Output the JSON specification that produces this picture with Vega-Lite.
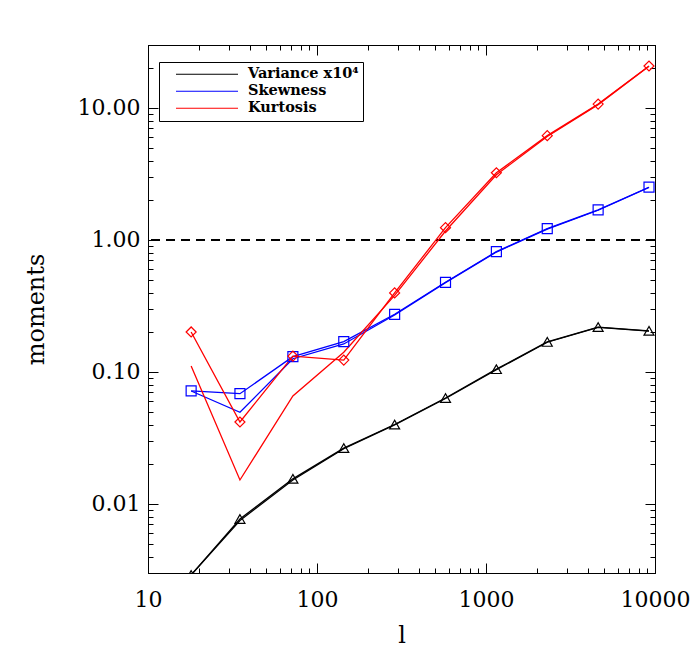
{
  "$schema": "https://vega.github.io/schema/vega-lite/v6.json",
  "width": 507,
  "height": 528,
  "autosize": "none",
  "padding": {"left": 148, "top": 45, "right": 45, "bottom": 95},
  "data": {
    "values": [
      {"series": "Variance x10⁴", "kind": "sym", "l": 18, "v": 0.0029},
      {"series": "Variance x10⁴", "kind": "sym", "l": 35, "v": 0.0077},
      {"series": "Variance x10⁴", "kind": "sym", "l": 72, "v": 0.0155},
      {"series": "Variance x10⁴", "kind": "sym", "l": 144, "v": 0.0265},
      {"series": "Variance x10⁴", "kind": "sym", "l": 288, "v": 0.040},
      {"series": "Variance x10⁴", "kind": "sym", "l": 576, "v": 0.0635},
      {"series": "Variance x10⁴", "kind": "sym", "l": 1152, "v": 0.105},
      {"series": "Variance x10⁴", "kind": "sym", "l": 2304, "v": 0.169},
      {"series": "Variance x10⁴", "kind": "sym", "l": 4608, "v": 0.219},
      {"series": "Variance x10⁴", "kind": "sym", "l": 9216, "v": 0.205},
      {"series": "Variance x10⁴", "kind": "plain", "l": 18, "v": 0.0029},
      {"series": "Variance x10⁴", "kind": "plain", "l": 35, "v": 0.0075},
      {"series": "Variance x10⁴", "kind": "plain", "l": 72, "v": 0.0152},
      {"series": "Variance x10⁴", "kind": "plain", "l": 144, "v": 0.0262},
      {"series": "Variance x10⁴", "kind": "plain", "l": 288, "v": 0.0398},
      {"series": "Variance x10⁴", "kind": "plain", "l": 576, "v": 0.063},
      {"series": "Variance x10⁴", "kind": "plain", "l": 1152, "v": 0.104},
      {"series": "Variance x10⁴", "kind": "plain", "l": 2304, "v": 0.168},
      {"series": "Variance x10⁴", "kind": "plain", "l": 4608, "v": 0.218},
      {"series": "Variance x10⁴", "kind": "plain", "l": 9216, "v": 0.204},
      {"series": "Skewness", "kind": "sym", "l": 18, "v": 0.0718},
      {"series": "Skewness", "kind": "sym", "l": 35, "v": 0.0685},
      {"series": "Skewness", "kind": "sym", "l": 72, "v": 0.1306},
      {"series": "Skewness", "kind": "sym", "l": 144, "v": 0.170},
      {"series": "Skewness", "kind": "sym", "l": 288, "v": 0.2735},
      {"series": "Skewness", "kind": "sym", "l": 576, "v": 0.478},
      {"series": "Skewness", "kind": "sym", "l": 1152, "v": 0.816},
      {"series": "Skewness", "kind": "sym", "l": 2304, "v": 1.22},
      {"series": "Skewness", "kind": "sym", "l": 4608, "v": 1.69},
      {"series": "Skewness", "kind": "sym", "l": 9216, "v": 2.51},
      {"series": "Skewness", "kind": "plain", "l": 18, "v": 0.0718},
      {"series": "Skewness", "kind": "plain", "l": 35, "v": 0.0495},
      {"series": "Skewness", "kind": "plain", "l": 72, "v": 0.126},
      {"series": "Skewness", "kind": "plain", "l": 144, "v": 0.163},
      {"series": "Skewness", "kind": "plain", "l": 288, "v": 0.27},
      {"series": "Skewness", "kind": "plain", "l": 576, "v": 0.475},
      {"series": "Skewness", "kind": "plain", "l": 1152, "v": 0.81},
      {"series": "Skewness", "kind": "plain", "l": 2304, "v": 1.21},
      {"series": "Skewness", "kind": "plain", "l": 4608, "v": 1.68},
      {"series": "Skewness", "kind": "plain", "l": 9216, "v": 2.5},
      {"series": "Kurtosis", "kind": "sym", "l": 18, "v": 0.201},
      {"series": "Kurtosis", "kind": "sym", "l": 35, "v": 0.0418},
      {"series": "Kurtosis", "kind": "sym", "l": 72, "v": 0.132},
      {"series": "Kurtosis", "kind": "sym", "l": 144, "v": 0.123},
      {"series": "Kurtosis", "kind": "sym", "l": 288, "v": 0.397},
      {"series": "Kurtosis", "kind": "sym", "l": 576, "v": 1.24},
      {"series": "Kurtosis", "kind": "sym", "l": 1152, "v": 3.23},
      {"series": "Kurtosis", "kind": "sym", "l": 2304, "v": 6.17},
      {"series": "Kurtosis", "kind": "sym", "l": 4608, "v": 10.7},
      {"series": "Kurtosis", "kind": "sym", "l": 9216, "v": 20.8},
      {"series": "Kurtosis", "kind": "plain", "l": 18, "v": 0.111},
      {"series": "Kurtosis", "kind": "plain", "l": 35, "v": 0.0152},
      {"series": "Kurtosis", "kind": "plain", "l": 72, "v": 0.0658},
      {"series": "Kurtosis", "kind": "plain", "l": 144, "v": 0.141},
      {"series": "Kurtosis", "kind": "plain", "l": 288, "v": 0.38},
      {"series": "Kurtosis", "kind": "plain", "l": 576, "v": 1.17},
      {"series": "Kurtosis", "kind": "plain", "l": 1152, "v": 3.12},
      {"series": "Kurtosis", "kind": "plain", "l": 2304, "v": 6.08},
      {"series": "Kurtosis", "kind": "plain", "l": 4608, "v": 10.6},
      {"series": "Kurtosis", "kind": "plain", "l": 9216, "v": 20.7}
    ]
  },
  "layer": [
    {
      "mark": {"type": "rule", "strokeDash": [9, 6], "color": "black", "strokeWidth": 1},
      "encoding": {
        "y": {"datum": 1, "type": "quantitative", "scale": {"type": "log", "domain": [0.003, 30]}, "axis": null}
      }
    },
    {
      "mark": {"type": "line", "strokeWidth": 1.3, "clip": true},
      "encoding": {
        "x": {
          "field": "l", "type": "quantitative",
          "scale": {"type": "log", "domain": [10, 10000]},
          "axis": {
            "orient": "bottom",
            "title": "l",
            "values": [10,20,30,40,50,60,70,80,90,100,200,300,400,500,600,700,800,900,1000,2000,3000,4000,5000,6000,7000,8000,9000,10000],
            "format": "d",
            "labelExpr": "indexof([10,100,1000,10000], datum.value) >= 0 ? datum.label : ''",
            "tickSize": {"condition": {"test": "indexof([10,100,1000,10000], datum.value) >= 0", "value": -10}, "value": -5},
            "labelPadding": 26,
            "titlePadding": 8
          }
        },
        "y": {
          "field": "v", "type": "quantitative",
          "scale": {"type": "log", "domain": [0.003, 30]},
          "axis": {
            "orient": "left",
            "title": "moments",
            "values": [0.003,0.004,0.005,0.006,0.007,0.008,0.009,0.01,0.02,0.03,0.04,0.05,0.06,0.07,0.08,0.09,0.1,0.2,0.3,0.4,0.5,0.6,0.7,0.8,0.9,1,2,3,4,5,6,7,8,9,10,20,30],
            "format": ".2f",
            "labelExpr": "indexof([0.01,0.1,1,10], datum.value) >= 0 ? datum.label : ''",
            "tickSize": {"condition": {"test": "indexof([0.01,0.1,1,10], datum.value) >= 0", "value": -10}, "value": -5},
            "labelPadding": 18,
            "titlePadding": 29
          }
        },
        "color": {
          "field": "series", "type": "nominal",
          "scale": {"domain": ["Variance x10⁴", "Skewness", "Kurtosis"], "range": ["#000000", "#0000ff", "#ff0000"]},
          "legend": {
            "orient": "none", "legendX": 11, "legendY": 17, "title": null,
            "symbolType": "stroke", "symbolSize": 3844, "symbolStrokeWidth": 1.2,
            "clipHeight": 16.5, "padding": 4, "symbolOffset": 12, "labelOffset": 9,
            "strokeColor": "black", "fillColor": "white",
            "labelFont": "DejaVu Serif", "labelFontWeight": "bold", "labelFontSize": 14.5, "labelColor": "black",
            "rowPadding": 0
          }
        },
        "detail": {"field": "kind", "type": "nominal"}
      }
    },
    {
      "transform": [{"filter": "datum.kind == 'sym' && datum.series == 'Variance x10⁴'"}],
      "mark": {"type": "point", "shape": "triangle-up", "color": "#000000", "filled": false, "strokeWidth": 1.2, "size": 100, "opacity": 1, "clip": true},
      "encoding": {
        "x": {
          "field": "l", "type": "quantitative",
          "scale": {"type": "log", "domain": [10, 10000]},
          "axis": {
            "orient": "top",
            "title": null,
            "labels": false,
            "values": [10,20,30,40,50,60,70,80,90,100,200,300,400,500,600,700,800,900,1000,2000,3000,4000,5000,6000,7000,8000,9000,10000],
            "tickSize": {"condition": {"test": "indexof([10,100,1000,10000], datum.value) >= 0", "value": -10}, "value": -5}
          }
        },
        "y": {
          "field": "v", "type": "quantitative",
          "scale": {"type": "log", "domain": [0.003, 30]},
          "axis": {
            "orient": "right",
            "title": null,
            "labels": false,
            "values": [0.003,0.004,0.005,0.006,0.007,0.008,0.009,0.01,0.02,0.03,0.04,0.05,0.06,0.07,0.08,0.09,0.1,0.2,0.3,0.4,0.5,0.6,0.7,0.8,0.9,1,2,3,4,5,6,7,8,9,10,20,30],
            "tickSize": {"condition": {"test": "indexof([0.01,0.1,1,10], datum.value) >= 0", "value": -10}, "value": -5}
          }
        }
      }
    },
    {
      "transform": [{"filter": "datum.kind == 'sym' && datum.series == 'Skewness'"}],
      "mark": {"type": "point", "shape": "square", "color": "#0000ff", "filled": false, "strokeWidth": 1.2, "size": 100, "opacity": 1, "clip": true},
      "encoding": {
        "x": {"field": "l", "type": "quantitative", "scale": {"type": "log", "domain": [10, 10000]}, "axis": null},
        "y": {"field": "v", "type": "quantitative", "scale": {"type": "log", "domain": [0.003, 30]}, "axis": null}
      }
    },
    {
      "transform": [{"filter": "datum.kind == 'sym' && datum.series == 'Kurtosis'"}],
      "mark": {"type": "point", "shape": "diamond", "color": "#ff0000", "filled": false, "strokeWidth": 1.2, "size": 100, "opacity": 1, "clip": true},
      "encoding": {
        "x": {"field": "l", "type": "quantitative", "scale": {"type": "log", "domain": [10, 10000]}, "axis": null},
        "y": {"field": "v", "type": "quantitative", "scale": {"type": "log", "domain": [0.003, 30]}, "axis": null}
      }
    }
  ],
  "resolve": {"axis": {"x": "independent", "y": "independent"}},
  "config": {
    "view": {"stroke": "black", "strokeWidth": 1},
    "axis": {
      "grid": false,
      "domainColor": "black",
      "domainWidth": 1,
      "tickColor": "black",
      "tickWidth": 1,
      "labelFont": "DejaVu Serif",
      "labelFontSize": 22,
      "labelColor": "black",
      "labelFlush": false,
      "labelOverlap": false,
      "titleFont": "DejaVu Serif",
      "titleFontSize": 24,
      "titleFontWeight": "normal",
      "titleColor": "black"
    }
  }
}
